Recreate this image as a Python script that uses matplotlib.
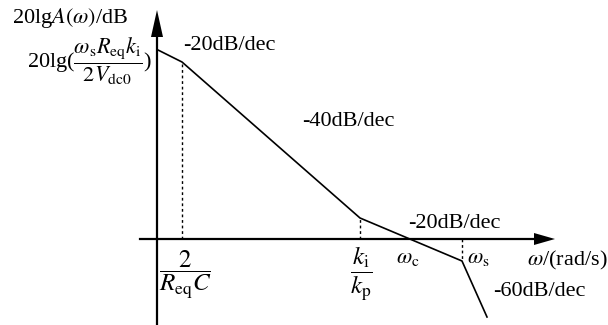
import matplotlib
matplotlib.use("Agg")
import matplotlib.pyplot as plt

plt.rcParams['font.family'] = ['Liberation Serif', 'DejaVu Serif']
plt.rcParams['mathtext.fontset'] = 'stix'

# Schematic Bode magnitude plot (abstract units, origin at axis crossing)
log_w = [1, 25, 203, 305, 330]          # break frequencies (schematic)
gain_db = [189, 177, 21, -22, -78]      # asymptotic magnitude (schematic)
slope_labels = ['-20dB/dec', '-40dB/dec', '-20dB/dec', '-60dB/dec']
freq_labels = [r'$\dfrac{2}{R_{\rm eq}C}$', r'$\dfrac{k_{\rm i}}{k_{\rm p}}$']
point_labels = [r'$\omega_{\rm c}$', r'$\omega_{\rm s}$']
y_label = r'20lg$A(\omega)$/dB'
x_label = r'$\omega$/(rad/s)'
y0_label = r'20lg($\dfrac{\omega_{\rm s}R_{\rm eq}k_{\rm i}}{2V_{\rm dc0}}$)'

fig = plt.figure(figsize=(6.08, 3.25), dpi=100)
ax = fig.add_axes([0, 0, 1, 1])
ax.set_xlim(-157, 451)
ax.set_ylim(-86, 239)
ax.axis('off')

# axes with arrows
ax.plot([-17, 380], [0, 0], color='black', lw=1.6)
ax.plot([0, 0], [-86, 205], color='black', lw=1.6)
ax.fill([377, 398, 377], [-6, 0, 6], color='black', lw=0)
ax.fill([-6, 0, 6], [202, 229, 202], color='black', lw=0)

# asymptotic curve
ax.plot(log_w, gain_db, color='black', lw=1.2, solid_joinstyle='miter')

# dotted guide lines
ax.plot([log_w[1], log_w[1]], [0, gain_db[1]], color='black', lw=1.0, ls=(0, (2, 2)))
ax.plot([log_w[2], log_w[2]], [0, gain_db[2]], color='black', lw=1.0, ls=(0, (2, 2)))
ax.plot([log_w[3], log_w[3]], [0, gain_db[3]], color='black', lw=1.0, ls=(0, (2, 2)))

fs = 16
ax.text(-145, 221, y_label, fontsize=fs, ha='left', va='center')
ax.text(-5, 178, y0_label, fontsize=fs, ha='right', va='center')
ax.text(26, 194, slope_labels[0], fontsize=fs, ha='left', va='center')
ax.text(145, 117, slope_labels[1], fontsize=fs, ha='left', va='center')
ax.text(251, 16, slope_labels[2], fontsize=fs, ha='left', va='center')
ax.text(336, -52, slope_labels[3], fontsize=fs, ha='left', va='center')
ax.text(370, -21, x_label, fontsize=fs, ha='left', va='center')
ax.text(251, -19, point_labels[0], fontsize=fs, ha='center', va='center')
ax.text(321, -19, point_labels[1], fontsize=fs, ha='center', va='center')
ax.text(28, -35, freq_labels[0], fontsize=18, ha='center', va='center')
ax.text(204, -35, freq_labels[1], fontsize=18, ha='center', va='center')

fig.savefig('out.png', dpi=100)
